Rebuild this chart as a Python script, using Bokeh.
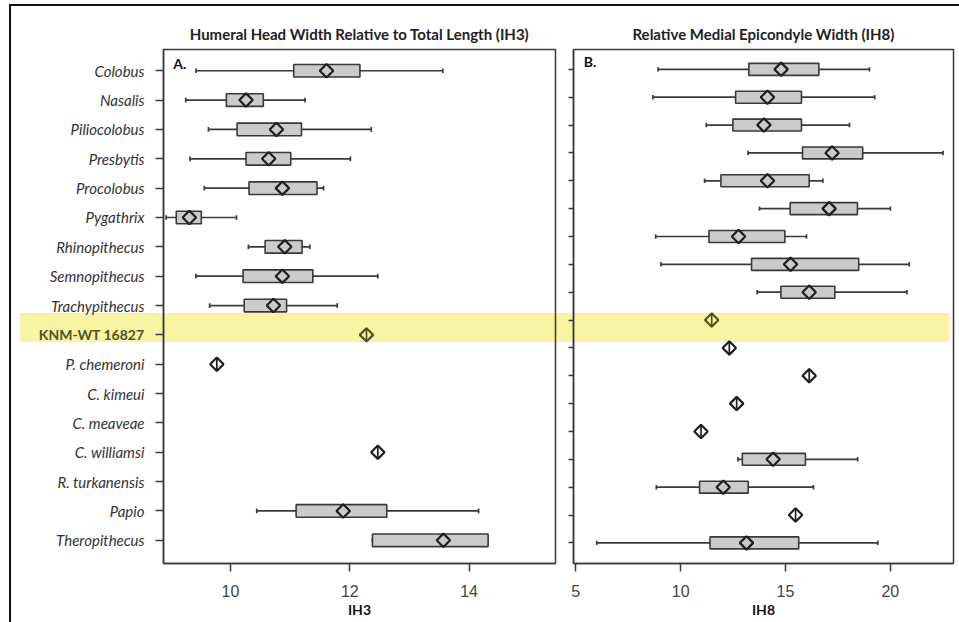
import math
from bokeh.plotting import figure
from bokeh.layouts import row
from bokeh.models import Range1d, FixedTicker, Label
from bokeh.core.properties import value
from bokeh.embed import file_html
from bokeh.resources import INLINE

# ---------------- data ----------------
taxa = ["Colobus", "Nasalis", "Piliocolobus", "Presbytis", "Procolobus", "Pygathrix",
        "Rhinopithecus", "Semnopithecus", "Trachypithecus", "KNM-WT 16827",
        "P. chemeroni", "C. kimeui", "C. meaveae", "C. williamsi", "R. turkanensis",
        "Papio", "Theropithecus"]
highlight = "KNM-WT 16827"

# Panel A: IH3 box summaries (whisker low, Q1, mean, Q3, whisker high)
ih3_box_taxa = ["Colobus", "Nasalis", "Piliocolobus", "Presbytis", "Procolobus", "Pygathrix",
                "Rhinopithecus", "Semnopithecus", "Trachypithecus", "Papio", "Theropithecus"]
ih3_lo   = [9.42, 9.25, 9.63, 9.32, 9.56, 8.92, 10.30, 9.42, 9.65, 10.44, 12.38]
ih3_q1   = [11.06, 9.93, 10.11, 10.26, 10.31, 9.09, 10.58, 10.21, 10.23, 11.10, 12.38]
ih3_mean = [11.61, 10.26, 10.77, 10.64, 10.87, 9.31, 10.91, 10.87, 10.72, 11.89, 13.57]
ih3_q3   = [12.17, 10.55, 11.19, 11.01, 11.45, 9.51, 11.20, 11.38, 10.94, 12.62, 14.32]
ih3_hi   = [13.56, 11.25, 12.36, 12.01, 11.56, 10.10, 11.33, 12.47, 11.79, 14.16, 14.32]
# Panel A: single specimens
ih3_single_taxa = ["KNM-WT 16827", "P. chemeroni", "C. williamsi"]
ih3_single      = [12.28, 9.77, 12.47]

# Panel B: rows (panel B has one extra, unlabelled row before Theropithecus)
ih8_rows = taxa[:16] + ["(unlabelled)", "Theropithecus"]
ih8_box_taxa = ["Colobus", "Nasalis", "Piliocolobus", "Presbytis", "Procolobus", "Pygathrix",
                "Rhinopithecus", "Semnopithecus", "Trachypithecus", "R. turkanensis", "Papio",
                "Theropithecus"]
ih8_lo   = [8.92, 8.68, 11.22, 13.21, 11.14, 13.76, 8.81, 9.06, 13.65, 12.73, 8.84, 6.00]
ih8_q1   = [13.25, 12.62, 12.49, 15.81, 11.92, 15.22, 11.35, 13.38, 14.78, 12.94, 10.90, 11.40]
ih8_mean = [14.79, 14.14, 13.97, 17.22, 14.14, 17.08, 12.76, 15.24, 16.13, 14.41, 12.03, 13.14]
ih8_q3   = [16.59, 15.76, 15.76, 18.68, 16.13, 18.43, 14.97, 18.49, 17.35, 15.95, 13.22, 15.63]
ih8_hi   = [19.00, 19.25, 18.05, 22.51, 16.78, 20.00, 16.00, 20.90, 20.79, 18.44, 16.33, 19.40]
ih8_single_taxa = ["KNM-WT 16827", "P. chemeroni", "C. kimeui", "C. meaveae", "C. williamsi",
                   "(unlabelled)"]
ih8_single      = [11.48, 12.32, 16.13, 12.67, 10.97, 15.48]

ih3_ticks = [10, 12, 14]
ih8_ticks = [5, 10, 15, 20]

# ---------------- style ----------------
LINE = "#3a3a3a"
BOXFILL = "#cbcbcb"
MARK = "#1e1e1e"
OLIVE = "#55521e"
BAND = "#f9f3a4"
FONT = "Lato"
BOX_H = 0.43
CAP_H = 0.16


def style_axes(p, xticks, tick_out_y):
    for ax in (p.xaxis[0], p.yaxis[0]):
        ax.axis_line_color = LINE
        ax.axis_line_width = 1.5
        ax.major_tick_line_color = LINE
        ax.major_tick_line_width = 1.5
        ax.major_tick_in = 0
        ax.minor_tick_line_color = None
    p.xaxis.ticker = FixedTicker(ticks=xticks)
    p.xaxis.major_tick_out = 8
    p.xaxis.major_label_text_font = "Liberation Sans"
    p.xaxis.major_label_text_font_size = "16px"
    p.xaxis.major_label_text_color = "#444444"
    p.xaxis.major_label_standoff = 13
    p.xaxis.axis_label_text_font = FONT
    p.xaxis.axis_label_text_font_style = "bold"
    p.xaxis.axis_label_text_font_size = "14px"
    p.xaxis.axis_label_text_color = "#111111"
    p.xaxis.axis_label_standoff = 1
    p.yaxis.major_tick_out = tick_out_y
    p.yaxis.major_label_standoff = 0
    p.grid.visible = False
    p.outline_line_color = LINE
    p.outline_line_width = 1.5
    p.border_fill_alpha = 0
    p.background_fill_alpha = 0
    p.title.align = "center"
    p.title.text_font = FONT
    p.title.text_font_size = "15px"
    p.title.text_font_style = "bold"
    p.title.text_color = "#222222"
    p.title.standoff = 14


def draw_boxes(p, rows, box_taxa, lo, q1, mean, q3, hi, single_taxa, single):
    pos = {t: i + 1 for i, t in enumerate(rows)}
    y = [pos[t] for t in box_taxa]
    # whiskers
    p.segment(x0=lo, y0=y, x1=q1, y1=y, line_color=LINE, line_width=1.7)
    p.segment(x0=q3, y0=y, x1=hi, y1=y, line_color=LINE, line_width=1.7)
    p.segment(x0=lo, y0=[v - CAP_H / 2 for v in y], x1=lo, y1=[v + CAP_H / 2 for v in y],
              line_color=LINE, line_width=1.7)
    p.segment(x0=hi, y0=[v - CAP_H / 2 for v in y], x1=hi, y1=[v + CAP_H / 2 for v in y],
              line_color=LINE, line_width=1.7)
    # boxes
    p.hbar(y=y, left=q1, right=q3, height=BOX_H, fill_color=BOXFILL,
           line_color=LINE, line_width=1.6)
    # means
    p.scatter(x=mean, y=y, marker="square", angle=math.pi / 4, size=9.5,
              fill_alpha=0, line_color=MARK, line_width=2.2)
    # single specimens (the highlighted fossil drawn in olive)
    ys = [pos[t] for t in single_taxa]
    cols = [OLIVE if t == highlight else MARK for t in single_taxa]
    p.segment(x0=single, y0=[v - BOX_H / 2 for v in ys], x1=single, y1=[v + BOX_H / 2 for v in ys],
              line_color=cols, line_width=1.7)
    p.scatter(x=single, y=ys, marker="square", angle=math.pi / 4, size=9.5,
              fill_alpha=0, line_color=cols, line_width=2.2)
    return pos


yA = Range1d(17.79, 0.276)

# ---------------- row labels for panel A ----------------
pL = figure(width=155, height=622, output_backend="svg", toolbar_location=None,
            x_range=Range1d(0, 155), y_range=yA,
            x_axis_location=None, y_axis_location=None,
            min_border_left=0, min_border_right=0, min_border_top=48, min_border_bottom=59)
pL.grid.visible = False
pL.outline_line_color = None
pL.border_fill_alpha = 0
pL.background_fill_alpha = 0
reg = [t for t in taxa if t != highlight]
pL.text(x=[144] * len(reg), y=[taxa.index(t) + 1 for t in reg], text=reg,
        text_align="right", text_baseline="middle", text_font=value(FONT),
        text_font_style="italic", text_font_size="15px", text_color="#333333")
pL.text(x=[144], y=[taxa.index(highlight) + 1], text=[highlight],
        text_align="right", text_baseline="middle", text_font=value(FONT),
        text_font_style="bold", text_font_size="14px", text_color=OLIVE)

# ---------------- panel A ----------------
pA = figure(width=405, height=622, output_backend="svg", toolbar_location=None,
            x_range=Range1d(8.876, 15.45), y_range=yA,
            title="Humeral Head Width Relative to Total Length (IH3)",
            x_axis_label="IH3",
            min_border_left=8, min_border_right=5, min_border_top=48, min_border_bottom=59)
style_axes(pA, ih3_ticks, 8)
posA = draw_boxes(pA, taxa, ih3_box_taxa, ih3_lo, ih3_q1, ih3_mean, ih3_q3, ih3_hi,
                  ih3_single_taxa, ih3_single)
pA.yaxis.ticker = FixedTicker(ticks=list(range(1, len(taxa) + 1)))
pA.yaxis.major_label_overrides = {i + 1: "" for i in range(len(taxa))}
pA.add_layout(Label(x=9.04, y=0.74, text="A.", text_align="left", text_baseline="middle",
                    text_font=FONT, text_font_style="bold", text_font_size="14px",
                    text_color="#111111"))

# ---------------- panel B ----------------
pB = figure(width=399, height=622, output_backend="svg", toolbar_location=None,
            x_range=Range1d(4.89, 23.01), y_range=Range1d(18.74, 0.287),
            title="Relative Medial Epicondyle Width (IH8)",
            x_axis_label="IH8",
            min_border_left=13, min_border_right=6, min_border_top=49, min_border_bottom=55)
style_axes(pB, ih8_ticks, 5)
posB = draw_boxes(pB, ih8_rows, ih8_box_taxa, ih8_lo, ih8_q1, ih8_mean, ih8_q3, ih8_hi,
                  ih8_single_taxa, ih8_single)
pB.yaxis.ticker = FixedTicker(ticks=list(range(1, len(ih8_rows) + 1)))
pB.yaxis.major_label_overrides = {i + 1: "" for i in range(len(ih8_rows))}
pB.add_layout(Label(x=5.38, y=0.70, text="B.", text_align="left", text_baseline="middle",
                    text_font=FONT, text_font_style="bold", text_font_size="14px",
                    text_color="#111111"))

# page decoration: outer frame lines and the highlight band behind the panels
page_bg = ", ".join([
    "linear-gradient(#111,#111) 10px 4px / 949px 2px no-repeat",
    "linear-gradient(#111,#111) 9px 4px / 2px 618px no-repeat",
    f"linear-gradient({BAND},{BAND}) 20px 313px / 929px 29px no-repeat",
    "#ffffff",
])
layout = row(pL, pA, pB, styles={"background": page_bg})
open("out.html", "w").write(file_html(layout, INLINE))
